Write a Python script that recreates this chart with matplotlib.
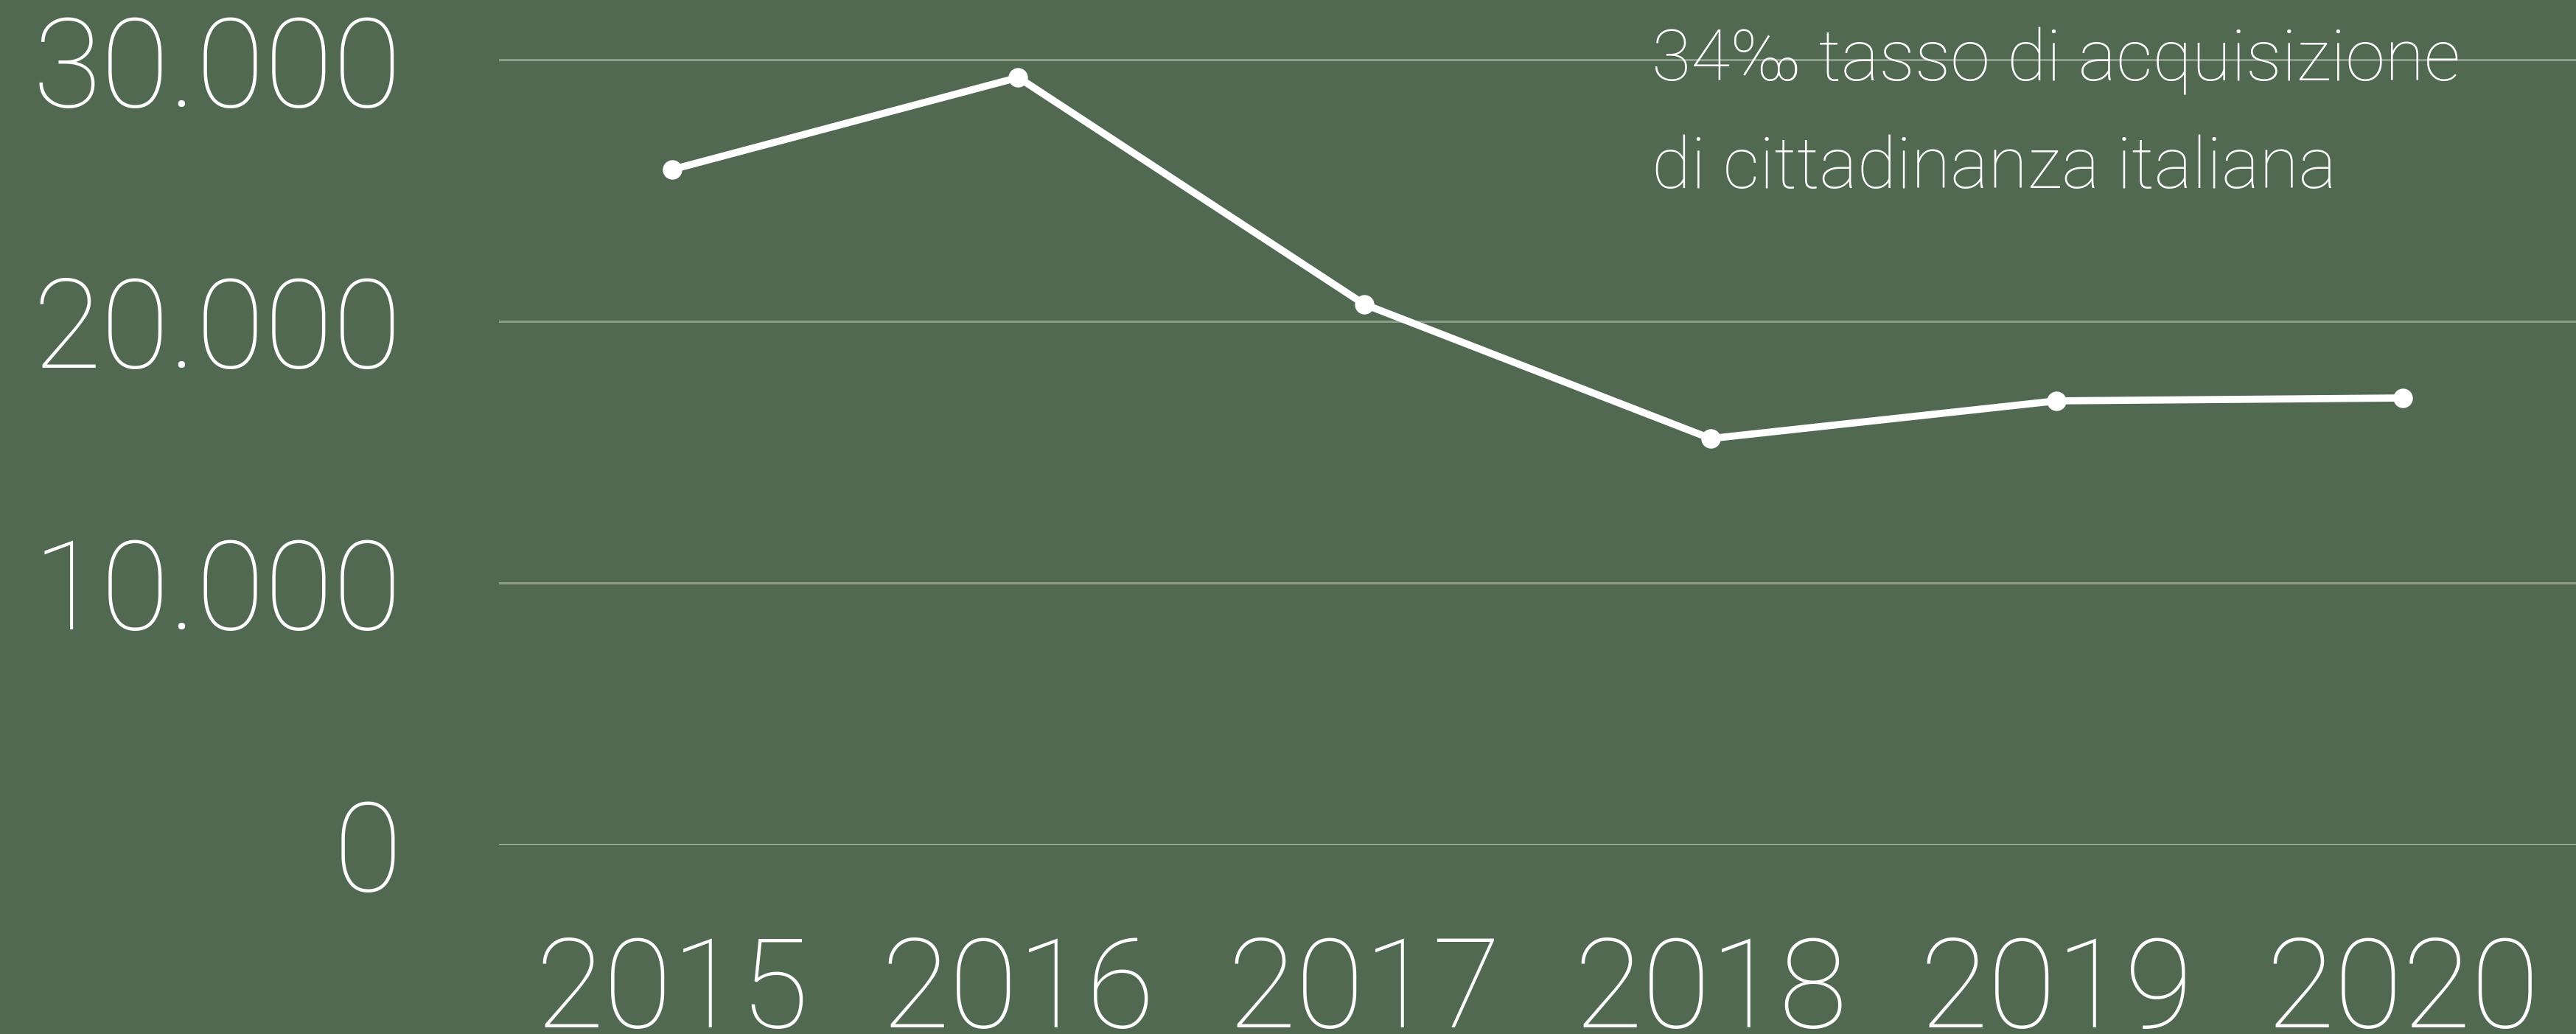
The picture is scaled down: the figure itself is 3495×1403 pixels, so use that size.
import matplotlib.pyplot as plt

# data
years = ['2015', '2016', '2017', '2018', '2019', '2020']
acquisizioni = [25800, 29320, 20650, 15520, 16960, 17070]
y_ticks = [0, 10000, 20000, 30000]
y_labels = ['0', '10.000', '20.000', '30.000']
note_lines = ['34‰ tasso di acquisizione', 'di cittadinanza italiana']

bg = '#506950'
plt.rcParams['font.family'] = ['Roboto', 'DejaVu Sans']

fig = plt.figure(figsize=(34.95, 14.03), dpi=100, facecolor=bg)
ax = fig.add_axes([0.1937, 0.1832, 0.8063, 0.8168], facecolor=bg)

x = list(range(len(years)))
ax.plot(x, acquisizioni, color='white', lw=7, marker='o', ms=18,
        solid_joinstyle='round', zorder=3)

ax.set_xlim(-0.5, 5.5)
ax.set_ylim(0, 32282)
ax.set_xticks(x)
ax.set_xticklabels(years)
ax.set_yticks(y_ticks)
ax.set_yticklabels(y_labels)

for v in y_ticks:
    ax.axhline(v, color='#c3cbc2' if v == 0 else '#8c9c8a', lw=2.2, zorder=1)

for s in ax.spines.values():
    s.set_visible(False)
ax.tick_params(length=0, colors='white', labelsize=122, pad=0)
ax.tick_params(axis='y', pad=95)
ax.tick_params(axis='x', pad=87)
for lab in ax.get_xticklabels() + ax.get_yticklabels():
    lab.set_fontweight('light')

# note in the top right, one text per line
for i, line in enumerate(note_lines):
    fig.text(0.6412, 0.9216 - i * 0.1034, line, color='white', fontsize=70,
             fontweight='light', va='baseline', ha='left')

fig.savefig('out.png', dpi=100, facecolor=bg)
